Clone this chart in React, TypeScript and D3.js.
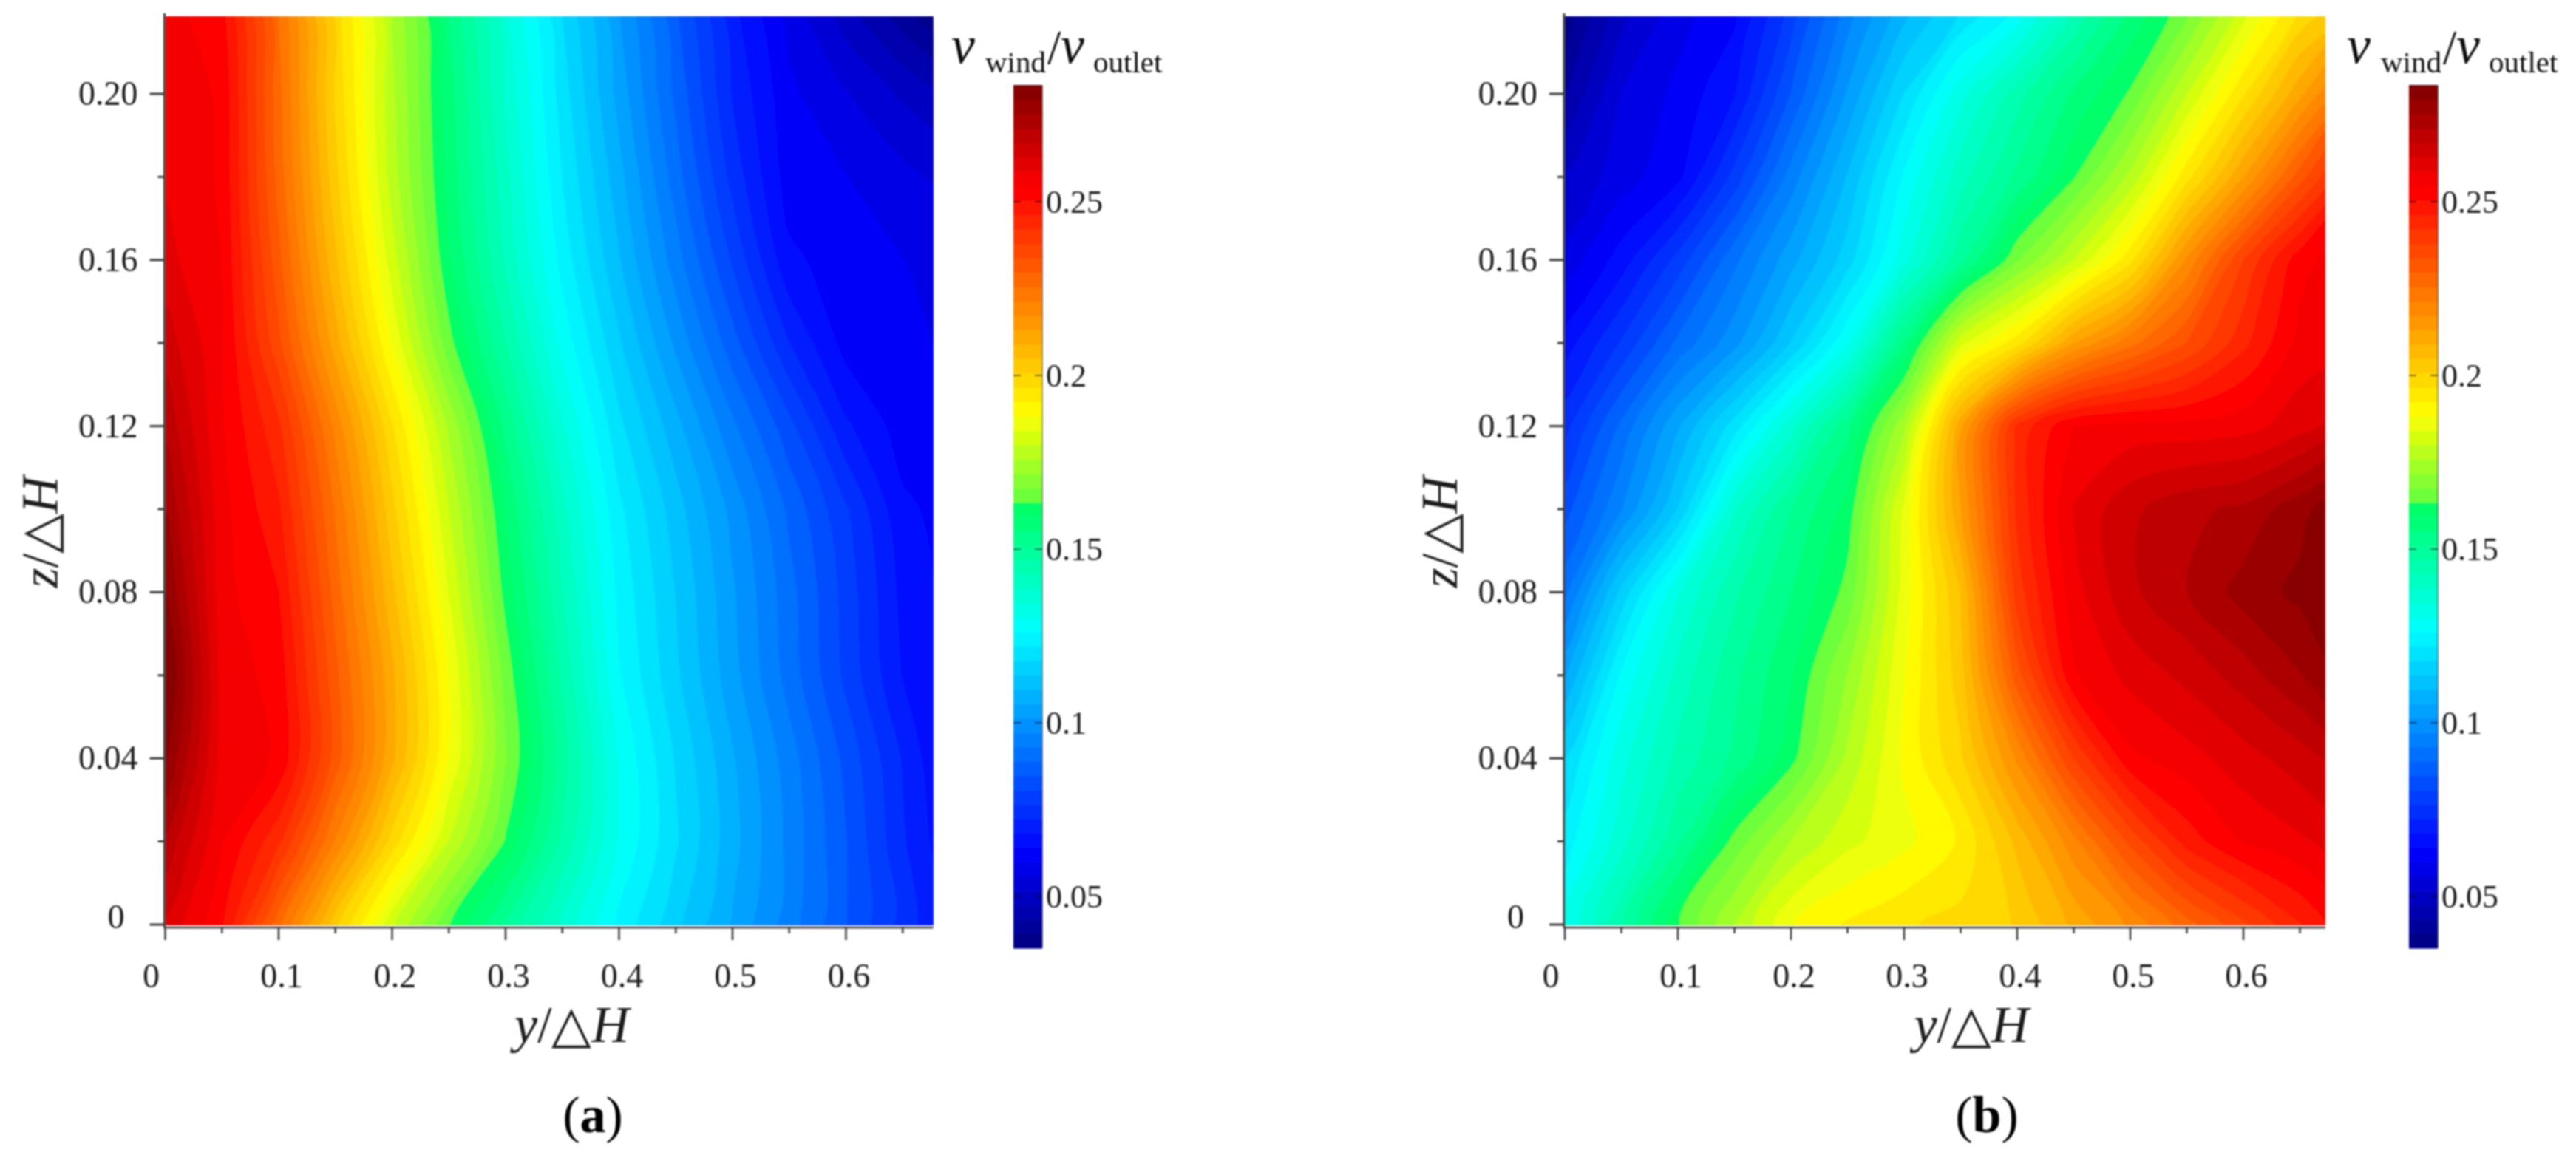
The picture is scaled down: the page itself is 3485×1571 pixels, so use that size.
import { useRef, useEffect } from "react";
import * as d3 from "d3";

// z/dH rows, top to bottom, and y/dH columns of the two velocity fields
const zRows = [0.22, 0.2, 0.18, 0.16, 0.14, 0.12, 0.1, 0.08, 0.06, 0.04, 0.02, 0];
const yCols = [0, 0.05, 0.1, 0.15, 0.2, 0.25, 0.3, 0.35, 0.4, 0.45, 0.5, 0.55, 0.6, 0.65, 0.7];

const fieldA = [
  [0.256, 0.252, 0.2255, 0.1987, 0.1756, 0.155, 0.1353, 0.1177, 0.1016, 0.0855, 0.0695, 0.058, 0.0492, 0.0406, 0.032],
  [0.257, 0.254, 0.227, 0.2, 0.177, 0.157, 0.138, 0.12, 0.104, 0.088, 0.072, 0.061, 0.056, 0.051, 0.046],
  [0.258, 0.254, 0.228, 0.202, 0.178, 0.158, 0.14, 0.122, 0.107, 0.091, 0.075, 0.062, 0.06, 0.057, 0.054],
  [0.26, 0.2545, 0.231, 0.2055, 0.182, 0.16, 0.142, 0.1246, 0.11, 0.095, 0.08, 0.065, 0.062, 0.06, 0.058],
  [0.265, 0.255, 0.235, 0.211, 0.1877, 0.165, 0.147, 0.129, 0.1144, 0.1005, 0.0865, 0.0725, 0.0625, 0.061, 0.059],
  [0.27, 0.255, 0.243, 0.22, 0.197, 0.175, 0.154, 0.135, 0.119, 0.107, 0.094, 0.082, 0.069, 0.062, 0.06],
  [0.275, 0.256, 0.247, 0.225, 0.202, 0.18, 0.159, 0.14, 0.123, 0.1115, 0.1, 0.088, 0.077, 0.065, 0.062],
  [0.28, 0.256, 0.2505, 0.228, 0.206, 0.184, 0.162, 0.143, 0.125, 0.1136, 0.102, 0.0905, 0.079, 0.067, 0.062],
  [0.285, 0.257, 0.253, 0.231, 0.21, 0.188, 0.166, 0.146, 0.1266, 0.1147, 0.103, 0.0913, 0.0796, 0.068, 0.062],
  [0.28, 0.257, 0.254, 0.232, 0.21, 0.188, 0.168, 0.149, 0.13, 0.1175, 0.106, 0.095, 0.0835, 0.072, 0.061],
  [0.27, 0.255, 0.243, 0.221, 0.199, 0.18, 0.163, 0.146, 0.13, 0.1185, 0.107, 0.096, 0.085, 0.073, 0.063],
  [0.262, 0.251, 0.227, 0.202, 0.181, 0.1637, 0.1505, 0.1375, 0.125, 0.115, 0.105, 0.095, 0.085, 0.075, 0.065],
];

const fieldB = [
  [0.036, 0.05, 0.058, 0.063, 0.078, 0.095, 0.108, 0.118, 0.127, 0.143, 0.156, 0.166, 0.182, 0.197, 0.206],
  [0.043, 0.056, 0.061, 0.068, 0.085, 0.102, 0.118, 0.133, 0.145, 0.156, 0.164, 0.18, 0.196, 0.212, 0.228],
  [0.052, 0.058, 0.063, 0.078, 0.095, 0.11, 0.127, 0.141, 0.152, 0.163, 0.177, 0.195, 0.213, 0.232, 0.248],
  [0.057, 0.066, 0.078, 0.092, 0.104, 0.116, 0.133, 0.15, 0.167, 0.18, 0.195, 0.218, 0.238, 0.253, 0.258],
  [0.066, 0.077, 0.09, 0.1, 0.114, 0.13, 0.155, 0.183, 0.195, 0.213, 0.224, 0.234, 0.245, 0.256, 0.259],
  [0.075, 0.09, 0.105, 0.12, 0.137, 0.154, 0.175, 0.212, 0.243, 0.2545, 0.256, 0.256, 0.257, 0.261, 0.266],
  [0.083, 0.097, 0.114, 0.138, 0.151, 0.161, 0.185, 0.213, 0.243, 0.259, 0.266, 0.27, 0.272, 0.278, 0.284],
  [0.092, 0.115, 0.134, 0.146, 0.155, 0.165, 0.186, 0.205, 0.24, 0.257, 0.266, 0.271, 0.277, 0.2805, 0.285],
  [0.105, 0.127, 0.14, 0.15, 0.159, 0.172, 0.188, 0.203, 0.232, 0.254, 0.26, 0.264, 0.269, 0.275, 0.282],
  [0.118, 0.133, 0.144, 0.152, 0.162, 0.177, 0.189, 0.2, 0.218, 0.238, 0.2535, 0.257, 0.261, 0.265, 0.27],
  [0.124, 0.137, 0.15, 0.165, 0.176, 0.183, 0.187, 0.193, 0.206, 0.22, 0.235, 0.248, 0.255, 0.258, 0.261],
  [0.13, 0.146, 0.163, 0.176, 0.188, 0.193, 0.196, 0.198, 0.201, 0.21, 0.218, 0.228, 0.237, 0.246, 0.255],
];

const yTicks = [0, 0.1, 0.2, 0.3, 0.4, 0.5, 0.6];
const yMinorTicks = [0.05, 0.15, 0.25, 0.35, 0.45, 0.55, 0.65];
const zTicks = [0, 0.04, 0.08, 0.12, 0.16, 0.2];
const zMinorTicks = [0.02, 0.06, 0.1, 0.14, 0.18];
const barTicks = [0.05, 0.1, 0.15, 0.2, 0.25];

const colorStops = [0.0351, 0.0632, 0.127, 0.163, 0.1635, 0.189, 0.254, 0.2835];
const colorValues = ["#00007f", "#0000ff", "#00ffff", "#00ff60", "#60ff40", "#ffff00", "#ff0000", "#7f0000"];

const SERIF = "'Liberation Serif', serif";

const App = () => {
  const svgRef = useRef(null);

  useEffect(() => {
    const svg = d3.select(svgRef.current);
    svg.selectAll("*").remove();

    const color = d3
      .scaleLinear<string>()
      .domain(colorStops)
      .range(colorValues)
      .clamp(true);

    const vMin = 0.0351;
    const vMax = 0.2835;
    const step = (vMax - vMin) / 60;
    const levels = d3.range(60).map((i) => vMin + i * step);

    const y2 = d3.scaleLinear().domain([0, 0.2]).range([1251, 127]);

    const defs = svg.append("defs");
    defs
      .append("filter")
      .attr("id", "soft")
      .attr("filterUnits", "userSpaceOnUse")
      .attr("x", 0)
      .attr("y", 0)
      .attr("width", 3485)
      .attr("height", 1571)
      .append("feGaussianBlur")
      .attr("stdDeviation", 1);

    const root = svg.append("g").attr("filter", "url(#soft)");

    const drawPanel = (
      id: string,
      values: number[][],
      left: number,
      unit: number,
      yMax: number,
      barDx: number,
      label: string,
      labelX: number
    ) => {
      const g = root.append("g");
      const x = d3.scaleLinear().domain([0, 1]).range([left, left + unit]);
      const right = x(yMax);
      const top = y2(0.2187);
      const bottom = y2(0) + 1;

      defs
        .append("clipPath")
        .attr("id", id)
        .append("rect")
        .attr("x", left)
        .attr("y", top)
        .attr("width", right - left)
        .attr("height", bottom - top);

      // contour grid coordinates: value i sits at i + 0.5
      const dy = yCols[1] - yCols[0];
      const dz = zRows[0] - zRows[1];
      const ringLine = d3
        .line<number[]>()
        .x((p) => x(yCols[0] + (p[0] - 0.5) * dy))
        .y((p) => y2(zRows[0] - (p[1] - 0.5) * dz))
        .curve(d3.curveCatmullRomClosed.alpha(0.5));

      const contours = d3
        .contours()
        .size([yCols.length, zRows.length])
        .thresholds(levels);

      const field = g.append("g").attr("clip-path", `url(#${id})`);
      field
        .append("rect")
        .attr("x", left)
        .attr("y", top)
        .attr("width", right - left)
        .attr("height", bottom - top)
        .attr("fill", color(vMin));
      field
        .selectAll("path")
        .data(contours(values.flat()))
        .enter()
        .append("path")
        .attr("d", (d) =>
          d.coordinates
            .flatMap((poly) => poly.map((ring) => ringLine(ring.slice(0, -1))))
            .join("")
        )
        .attr("fill", (d) => color(d.value + step / 2));

      // axes
      const axisColor = "#3c3c3c";
      g.append("line")
        .attr("x1", left - 1)
        .attr("x2", left - 1)
        .attr("y1", 18)
        .attr("y2", bottom + 4)
        .attr("stroke", axisColor)
        .attr("stroke-width", 3);
      g.append("line")
        .attr("x1", left - 2)
        .attr("x2", right)
        .attr("y1", bottom + 3)
        .attr("y2", bottom + 3)
        .attr("stroke", "#555")
        .attr("stroke-width", 3);

      const tickLines = (ticks: number[], len: number) => {
        g.append("g")
          .selectAll("line")
          .data(ticks)
          .enter()
          .append("line")
          .attr("x1", left - len)
          .attr("x2", left)
          .attr("y1", (d) => y2(d))
          .attr("y2", (d) => y2(d))
          .attr("stroke", axisColor)
          .attr("stroke-width", 3);
      };
      tickLines(zTicks, 21);
      tickLines(zMinorTicks, 10);

      const xTickLines = (ticks: number[], len: number) => {
        g.append("g")
          .selectAll("line")
          .data(ticks)
          .enter()
          .append("line")
          .attr("x1", (d) => x(d))
          .attr("x2", (d) => x(d))
          .attr("y1", bottom + 3)
          .attr("y2", bottom + 3 + len)
          .attr("stroke", axisColor)
          .attr("stroke-width", 2.5);
      };
      xTickLines(yTicks, 17);
      xTickLines(yMinorTicks, 8);

      g.append("g")
        .selectAll("text")
        .data(yTicks)
        .enter()
        .append("text")
        .attr("x", (d) => x(d) + (d === 0 ? -19 : 4))
        .attr("y", 1336)
        .attr("text-anchor", "middle")
        .style("font", `46px ${SERIF}`)
        .style("fill", "#1a1a1a")
        .text((d) => String(d));

      g.append("g")
        .selectAll("text")
        .data(zTicks)
        .enter()
        .append("text")
        .attr("x", (d) => (d === 0 ? left - 55 : left - 37))
        .attr("y", (d) => y2(d) + (d === 0 ? 5 : 15))
        .attr("text-anchor", "end")
        .style("font", `46px ${SERIF}`)
        .style("fill", "#1a1a1a")
        .text((d) => (d === 0 ? "0" : d.toFixed(2)));

      // axis titles
      const xTitle = g
        .append("text")
        .attr("x", left + 550)
        .attr("y", 1410)
        .attr("text-anchor", "middle")
        .style("font", `70px ${SERIF}`)
        .style("fill", "#1a1a1a");
      xTitle.append("tspan").style("font-style", "italic").text("y");
      xTitle.append("tspan").text("/△");
      xTitle.append("tspan").style("font-style", "italic").text("H");

      const zTitle = g
        .append("text")
        .attr("transform", `translate(${left - 146},720) rotate(-90)`)
        .attr("text-anchor", "middle")
        .style("font", `70px ${SERIF}`)
        .style("fill", "#1a1a1a");
      zTitle.append("tspan").style("font-style", "italic").text("z");
      zTitle.append("tspan").text("/△");
      zTitle.append("tspan").style("font-style", "italic").text("H");

      // panel letter
      const letter = g
        .append("text")
        .attr("x", labelX)
        .attr("y", 1532)
        .attr("text-anchor", "middle")
        .style("font", `70px ${SERIF}`)
        .style("fill", "#000");
      letter.append("tspan").text("(");
      letter.append("tspan").style("font-weight", "bold").text(label);
      letter.append("tspan").text(")");

      // colour bar
      const bar = g.append("g").attr("transform", `translate(${barDx},0)`);
      const barY = d3.scaleLinear().domain([0.05, 0.25]).range([1213, 273]);
      const barLeft = 1371;
      const barWidth = 39;
      bar
        .selectAll("rect")
        .data(levels)
        .enter()
        .append("rect")
        .attr("x", barLeft)
        .attr("width", barWidth)
        .attr("y", (d) => barY(d + step))
        .attr("height", (d) => barY(d) - barY(d + step) + 0.6)
        .attr("fill", (d) => color(d + step / 2));
      bar
        .append("line")
        .attr("x1", barLeft + barWidth)
        .attr("x2", barLeft + barWidth)
        .attr("y1", barY(vMax))
        .attr("y2", barY(vMin))
        .attr("stroke", "#000")
        .attr("stroke-opacity", 0.45)
        .attr("stroke-width", 2);
      bar
        .append("line")
        .attr("x1", barLeft)
        .attr("x2", barLeft + barWidth)
        .attr("y1", barY(vMax))
        .attr("y2", barY(vMax))
        .attr("stroke", "#000")
        .attr("stroke-opacity", 0.4)
        .attr("stroke-width", 2);
      [barLeft, barLeft + barWidth - 10].forEach((sx) => {
        bar
          .append("g")
          .selectAll("line")
          .data(barTicks)
          .enter()
          .append("line")
          .attr("x1", sx)
          .attr("x2", sx + 10)
          .attr("y1", (d) => barY(d))
          .attr("y2", (d) => barY(d))
          .attr("stroke", "#000")
          .attr("stroke-opacity", 0.7)
          .attr("stroke-width", 2);
      });
      bar
        .append("g")
        .selectAll("text")
        .data(barTicks)
        .enter()
        .append("text")
        .attr("x", barLeft + barWidth + 5)
        .attr("y", (d) => barY(d) + 15)
        .style("font", `44px ${SERIF}`)
        .style("fill", "#1a1a1a")
        .text((d) => String(d));

      // colour bar title, pieces placed one by one
      const title: [string, number, number, number, boolean][] = [
        ["v", 1287, 85, 72, true],
        ["wind", 1333, 98, 41, false],
        ["/", 1417, 86, 66, false],
        ["v", 1435, 85, 72, true],
        ["outlet", 1479, 98, 41, false],
      ];
      title.forEach(([t, tx, ty, size, italic]) => {
        bar
          .append("text")
          .attr("x", tx)
          .attr("y", ty)
          .style("font", `${italic ? "italic " : ""}${size}px ${SERIF}`)
          .style("fill", "#111")
          .text(t);
      });
    };

    drawPanel("clipA", fieldA, 223.5, 1535, 0.677, 0, "a", 802);
    drawPanel("clipB", fieldB, 2117, 1530, 0.6725, 1888, "b", 2688);
  }, []);

  return (
    <svg
      ref={svgRef}
      width={3485}
      height={1571}
      style={{ position: "absolute", left: 0, top: 0, background: "#fff" }}
    ></svg>
  );
};

export default App;
